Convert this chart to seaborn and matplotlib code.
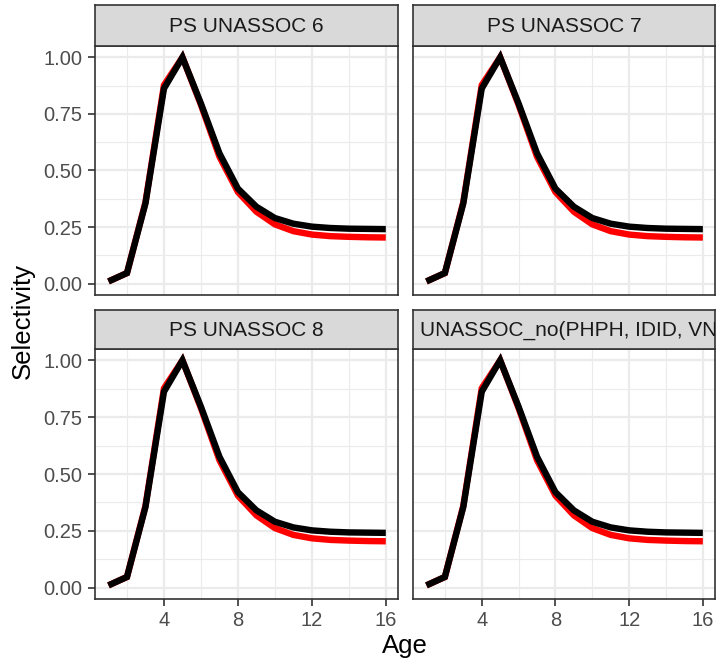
import matplotlib
matplotlib.use("Agg")
import matplotlib.pyplot as plt
import seaborn as sns
import pandas as pd

sns.set_theme(style="white")
plt.rcParams['font.family'] = ['Liberation Sans', 'DejaVu Sans']

ages = list(range(1, 17))
sel_black = [0.01, 0.047, 0.355, 0.862, 1.0, 0.796, 0.576, 0.42, 0.34, 0.29,
             0.265, 0.252, 0.246, 0.243, 0.242, 0.241]
sel_red = [0.01, 0.047, 0.36, 0.877, 1.0, 0.79, 0.561, 0.405, 0.318, 0.262,
           0.232, 0.217, 0.210, 0.207, 0.205, 0.204]
panels = ["PS UNASSOC 6", "PS UNASSOC 7", "PS UNASSOC 8", "UNASSOC_no(PHPH, IDID, VNHL)"]
x_ticks = [4, 8, 12, 16]
y_ticks = [0.00, 0.25, 0.50, 0.75, 1.00]
y_tick_labels = ["0.00", "0.25", "0.50", "0.75", "1.00"]

rows = []
for p in panels:
    for a, b, r in zip(ages, sel_black, sel_red):
        rows.append({"panel": p, "Age": a, "Selectivity": r, "series": "red"})
        rows.append({"panel": p, "Age": a, "Selectivity": b, "series": "black"})
df = pd.DataFrame(rows)

W, H = 719, 665
fig = plt.figure(figsize=(W / 100, H / 100), dpi=100)

col_x = [(95, 398), (413, 715)]
row_y = [(5, 46, 295), (310, 349, 599)]  # strip top, axes top, axes bottom

border = "#333333"
for i, p in enumerate(panels):
    r, c = divmod(i, 2)
    x0, x1 = col_x[c]
    st, at, ab = row_y[r]
    ax = fig.add_axes([x0 / W, 1 - ab / H, (x1 - x0) / W, (ab - at) / H])
    sub = df[df.panel == p]
    sns.lineplot(data=sub, x="Age", y="Selectivity", hue="series",
                 palette={"red": "#FF0000", "black": "#000000"},
                 hue_order=["red", "black"], linewidth=4.6, ax=ax,
                 legend=False, solid_capstyle="butt", solid_joinstyle="miter", zorder=3)
    ax.set_xlim(0.27, 16.66)
    ax.set_ylim(-0.05, 1.05)
    ax.set_xticks(x_ticks)
    ax.set_xticks([2, 6, 10, 14], minor=True)
    ax.set_yticks(y_ticks)
    ax.set_yticks([0.125, 0.375, 0.625, 0.875], minor=True)
    ax.grid(True, which="major", color="#EBEBEB", linewidth=1.6, zorder=0)
    ax.grid(True, which="minor", color="#EBEBEB", linewidth=0.8, zorder=0)
    ax.set_axisbelow(True)
    for s in ax.spines.values():
        s.set_color(border)
        s.set_linewidth(1.2)
    ax.set_xlabel("")
    ax.set_ylabel("")
    ax.tick_params(which="major", length=5, width=1.2, color=border,
                   labelsize=14.5, labelcolor="#4D4D4D", pad=4)
    ax.tick_params(which="minor", length=0)
    if c == 0:
        ax.set_yticklabels(y_tick_labels)
        ax.tick_params(axis="y", left=True)
    else:
        ax.tick_params(axis="y", left=False, labelleft=False)
    if r == 1:
        ax.set_xticklabels([str(t) for t in x_ticks])
        ax.tick_params(axis="x", bottom=True)
    else:
        ax.tick_params(axis="x", bottom=False, labelbottom=False)
    # strip
    sax = fig.add_axes([x0 / W, 1 - at / H, (x1 - x0) / W, (at - st) / H])
    sax.set_facecolor("#D9D9D9")
    sax.set_xticks([])
    sax.set_yticks([])
    for s in sax.spines.values():
        s.set_color(border)
        s.set_linewidth(1.2)
    sw = x1 - x0
    if len(p) > 20:
        t = sax.text(7 / sw, 0.47, p, ha="left", va="center", fontsize=15,
                     color="#1A1A1A", transform=sax.transAxes)
    else:
        t = sax.text(0.5, 0.47, p, ha="center", va="center", fontsize=15,
                     color="#1A1A1A", transform=sax.transAxes)
    t.set_clip_on(True)
    t.set_clip_path(sax.patch)

fig.text(405 / W, 1 - 646 / H, "Age", ha="center", va="center", fontsize=18.5, color="black")
fig.text(23 / W, 1 - 321 / H, "Selectivity", ha="center", va="center",
         rotation=90, fontsize=18.5, color="black")

fig.savefig("out.png", dpi=100)
